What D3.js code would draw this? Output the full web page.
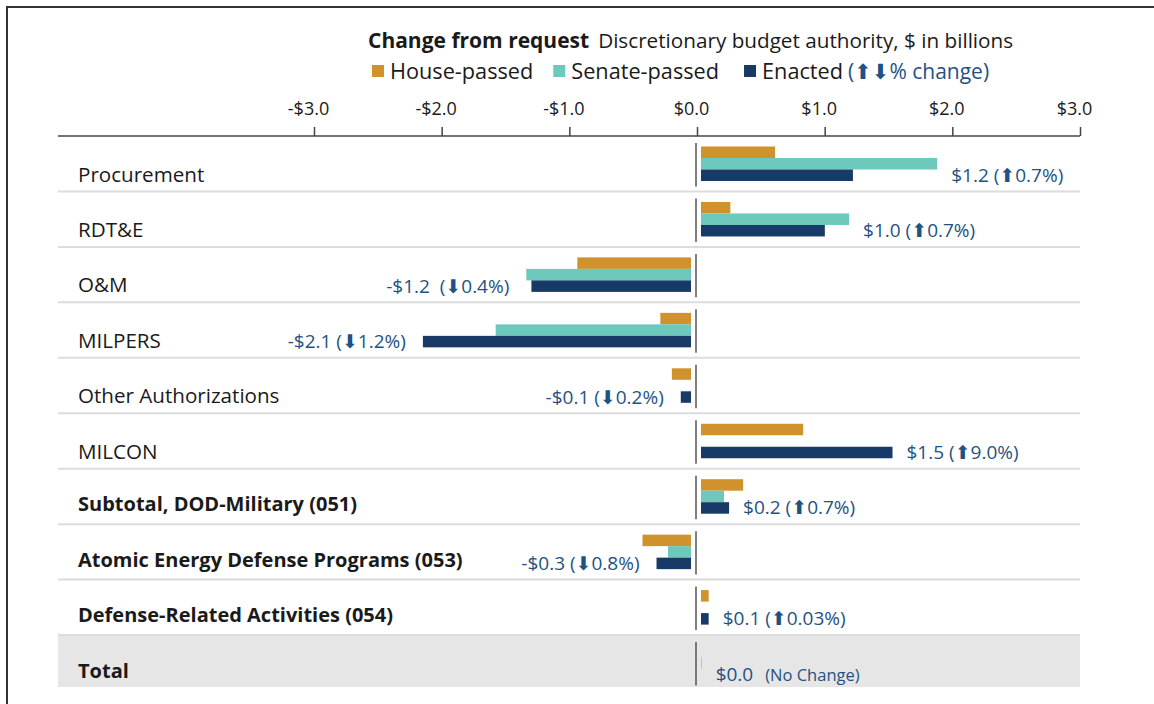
<!DOCTYPE html>
<html>
<head>
<meta charset="utf-8">
<script src="https://cdn.jsdelivr.net/npm/d3@7"></script>
<style>
  body { margin: 0; background: #fff; }
  text { font-family: "Open Sans", sans-serif; }
</style>
</head>
<body>
<script>
// rows, top to bottom
const categories = ["Procurement", "RDT&E", "O&M", "MILPERS", "Other Authorizations", "MILCON",
  "Subtotal, DOD-Military (051)", "Atomic Energy Defense Programs (053)",
  "Defense-Related Activities (054)", "Total"];
const boldRows = ["Subtotal, DOD-Military (051)", "Atomic Energy Defense Programs (053)",
  "Defense-Related Activities (054)", "Total"];

// change from request, $ billions
const house   = [0.58, 0.23, -0.89, -0.24, -0.15, 0.80, 0.33, -0.38, 0.06, 0];
const senate  = [1.85, 1.16, -1.29, -1.53, 0, 0, 0.18, -0.18, 0, 0.005];
const enacted = [1.19, 0.97, -1.25, -2.10, -0.08, 1.50, 0.22, -0.27, 0.06, 0];

const amountLabels = ["$1.2", "$1.0", "-$1.2 ", "-$2.1", "-$0.1", "$1.5", "$0.2", "-$0.3", "$0.1", "$0.0"];
const pctDir  = ["up", "up", "down", "down", "down", "up", "up", "down", "up", null];
const pctText = ["0.7%", "0.7%", "0.4%", "1.2%", "0.2%", "9.0%", "0.7%", "0.8%", "0.03%", "No Change"];

const ticks = [-3, -2, -1, 0, 1, 2, 3];
const seriesNames = ["House-passed", "Senate-passed", "Enacted"];
const colors = ["#d0922c", "#6dc9bc", "#173a66"];
const labelBlue = "#1f5282";

const W = 1154, H = 704;
const svg = d3.select('body').append('svg').attr('width', W).attr('height', H);

// frame (top + left edges)
svg.append('path').attr('d', 'M7,704V7H1154').attr('fill', 'none')
   .style('stroke', '#333').style('stroke-width', 2);

const left = 58, right = 1080;
const x = d3.scaleLinear().domain([-3, 3]).range([314, 1080]);
const y = d3.scaleBand().domain(categories).range([136, 690.5]);
const sub = d3.scaleBand().domain(seriesNames).range([10.5, 45]);

// total band
svg.append('rect').attr('x', left).attr('y', y("Total")).attr('width', right - left)
   .attr('height', 52).style('fill', '#e6e6e6');

// row separators
svg.append('g').selectAll('line').data(categories.slice(0, -1)).join('line')
   .attr('x1', left).attr('x2', right)
   .attr('y1', d => y(d) + y.bandwidth()).attr('y2', d => y(d) + y.bandwidth())
   .style('stroke', '#dcdcdc').style('stroke-width', 2);

// title
const title = svg.append('text').attr('x', 368).attr('y', 48).style('fill', '#1a1a1a');
title.append('tspan').style('font-weight', 'bold').style('font-size', '21px').text('Change from request');
title.append('tspan').attr('dx', 9).style('font-size', '20.7px').text('Discretionary budget authority, $ in billions');

// legend
const legend = svg.append('g').attr('transform', 'translate(372,71)');
const legendGap = [20, 25, 0];
let lx = 0;
seriesNames.forEach((s, i) => {
  legend.append('rect').attr('x', lx).attr('y', -6).attr('width', 12).attr('height', 12).style('fill', colors[i]);
  const t = legend.append('text').attr('x', lx + 18).attr('y', 7.5).style('font-size', '21.7px').style('fill', '#1a1a1a').text(s);
  let w = t.node().getComputedTextLength();
  if (s === "Enacted") {
    const t2 = legend.append('text').attr('x', lx + 18 + w + 5).attr('y', 7.5)
      .style('font-size', '21px').style('fill', labelBlue);
    t2.append('tspan').text('(');
    t2.append('tspan').style('font-family', 'DejaVu Sans').style('font-size', '21px').text('\u2B06\u2B07');
    t2.append('tspan').text('% change)');
  }
  lx += 18 + w + legendGap[i];
});

// axis
const axis = svg.append('g').attr('transform', 'translate(0,136)')
  .call(d3.axisTop(x).tickValues(ticks).tickSize(9).tickPadding(12)
        .tickFormat(d => (d < 0 ? '-' : '') + '$' + Math.abs(d).toFixed(1)));
axis.select('.domain').remove();
axis.selectAll('.tick line').style('stroke', '#444').style('stroke-width', 1.5);
axis.selectAll('.tick text').attr('dx', -6).style('font-size', '18px').style('fill', '#1a1a1a')
    .style('font-family', '"Open Sans", sans-serif');
svg.append('line').attr('x1', left).attr('x2', right).attr('y1', 136).attr('y2', 136)
   .style('stroke', '#444').style('stroke-width', 1.5);

// row labels
svg.append('g').selectAll('text').data(categories).join('text')
   .attr('x', 78).attr('y', d => y(d) + (boldRows.includes(d) ? 42.5 : 45.5))
   .style('font-size', d => boldRows.includes(d) ? '20px' : '20.6px').style('fill', '#1a1a1a')
   .style('font-weight', d => boldRows.includes(d) ? 'bold' : 'normal')
   .text(d => d);

// zero line per row
svg.append('g').selectAll('line').data(categories).join('line')
   .attr('x1', x(0) - 1).attr('x2', x(0) - 1)
   .attr('y1', d => y(d) + 7).attr('y2', d => y(d) + y.bandwidth() - 5)
   .style('stroke', '#555').style('stroke-width', 1.5);

// bars
const rows = categories.map((c, i) => ({ c, vals: [house[i], senate[i], enacted[i]], i }));
const gapPos = 4, gapNeg = 6;
const barX = v => v >= 0 ? x(0) + gapPos : x(v) - gapNeg;
const barW = v => Math.abs(x(v) - x(0));

const rowG = svg.append('g').selectAll('g').data(rows).join('g')
   .attr('transform', d => `translate(0,${y(d.c)})`);
rowG.selectAll('rect').data(d => d.vals.map((v, k) => ({ v, k })).filter(e => e.v !== 0)).join('rect')
   .attr('x', e => barX(e.v)).attr('width', e => barW(e.v))
   .attr('y', e => sub(seriesNames[e.k])).attr('height', sub.bandwidth())
   .style('fill', e => colors[e.k]);

// value labels, aligned with the enacted bar
rowG.each(function (d) {
  const g = d3.select(this);
  const far = d3.max([senate[d.i], enacted[d.i]], v => Math.abs(v));
  const sign = (enacted[d.i] < 0) ? -1 : 1;
  const ty = sub("Enacted") + sub.bandwidth() / 2 + 6.5;
  let t;
  if (sign > 0) {
    t = g.append('text').attr('x', x(0) + gapPos + barW(far) + 14).attr('y', ty);
  } else {
    t = g.append('text').attr('x', x(0) - gapNeg - barW(far) - 17).attr('y', ty).attr('text-anchor', 'end');
  }
  t.style('font-size', '19px').style('fill', labelBlue).style('white-space', 'pre');
  t.append('tspan').text(amountLabels[d.i]);
  if (pctDir[d.i]) {
    t.append('tspan').text(' (');
    t.append('tspan').style('font-family', 'DejaVu Sans').style('font-size', '19px')
      .text(pctDir[d.i] === 'up' ? '\u2B06' : '\u2B07');
    t.append('tspan').text(pctText[d.i] + ')');
  } else {
    t.append('tspan').attr('dx', 12).style('font-size', '16.5px').text('(' + pctText[d.i] + ')');
  }
});
</script>
</body>
</html>
